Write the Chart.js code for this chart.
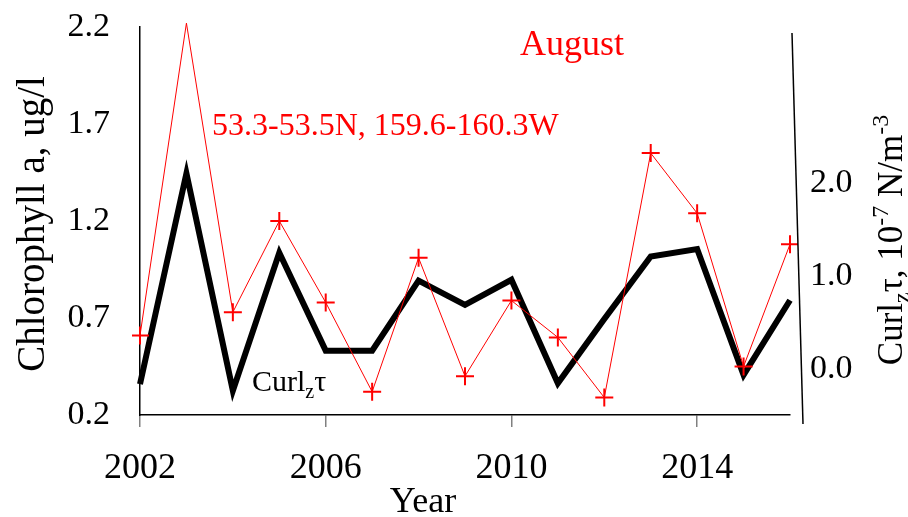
<!DOCTYPE html>
<html>
<head>
<meta charset="utf-8">
<script src="https://cdn.jsdelivr.net/npm/chart.js@4/dist/chart.umd.min.js"></script>
<style>
  body { margin: 0; background: #fff; }
</style>
</head>
<body>
<canvas id="lineChart" width="908" height="517"></canvas>
<script>
  const years = [2002, 2003, 2004, 2005, 2006, 2007, 2008, 2009, 2010, 2011, 2012, 2013, 2014, 2015, 2016];
  // chlorophyll a, ug/l (left axis)
  const chlorophyll = [0.61, 2.22, 0.73, 1.2, 0.78, 0.32, 1.01, 0.4, 0.79, 0.6, 0.29, 1.55, 1.24, 0.45, 1.08];
  // wind stress curl, 10^-7 N/m^3 (right axis)
  const curl = [-0.16, 2.1, -0.23, 1.25, 0.2, 0.2, 0.95, 0.69, 0.96, -0.15, 0.54, 1.21, 1.29, -0.06, 0.74];

  const yearTicks = [2002, 2006, 2010, 2014];
  const chlTicks = [0.2, 0.7, 1.2, 1.7, 2.2];
  const curlTicks = [0, 1, 2];

  const serif = "'Liberation Serif', 'Times New Roman', serif";

  function setTicks(list) {
    return (scale) => { scale.ticks = list.map((v) => ({ value: v })); };
  }

  // fixed axis size, no label overhang padding
  function fixSize(prop, size) {
    return (s) => {
      s[prop] = size;
      s.paddingTop = 0;
      s.paddingBottom = 0;
      s.paddingLeft = 0;
      s.paddingRight = 0;
    };
  }

  // text with sub/superscripts: parts = [text, size, baseline shift]
  function drawParts(ctx, parts, x, y, color, center) {
    ctx.fillStyle = color;
    ctx.textBaseline = "alphabetic";
    ctx.textAlign = "left";
    let total = 0;
    parts.forEach((p) => {
      ctx.font = p[1] + "px " + serif;
      total += ctx.measureText(p[0]).width;
    });
    let cx = center ? x - total / 2 : x;
    parts.forEach((p) => {
      ctx.font = p[1] + "px " + serif;
      ctx.fillText(p[0], cx, y + p[2]);
      cx += ctx.measureText(p[0]).width;
    });
  }

  const annotations = {
    id: "annotations",
    afterDraw(chart) {
      const ctx = chart.ctx;
      ctx.save();

      // right axis line (slightly tilted)
      ctx.strokeStyle = "#000";
      ctx.lineWidth = 1.5;
      ctx.beginPath();
      ctx.moveTo(792, 33);
      ctx.lineTo(803, 424);
      ctx.stroke();

      drawParts(ctx, [["August", 36, 0]], 520, 55, "#ff0000", false);
      drawParts(ctx, [["53.3-53.5N, 159.6-160.3W", 32, 0]], 212, 135, "#ff0000", false);
      drawParts(ctx, [["Curl", 30, 0], ["z", 20, 7], ["\u03c4", 30, 0]], 252, 391, "#000", false);
      drawParts(ctx, [["Year", 36, 0]], 423, 512, "#000", true);

      // left axis title
      ctx.save();
      ctx.translate(44, 224);
      ctx.rotate(-Math.PI / 2);
      drawParts(ctx, [["Chlorophyll a, ug/l", 39, 0]], 0, 0, "#000", true);
      ctx.restore();

      // right axis title
      ctx.save();
      ctx.translate(902, 240);
      ctx.rotate(-Math.PI / 2);
      drawParts(ctx, [
        ["Curl", 35, 0], ["z", 24, 7], ["\u03c4, 10", 35, 0], ["-7", 24, -14],
        [" N/m", 35, 0], ["-3", 24, -14]
      ], 0, 0, "#000", true);
      ctx.restore();

      ctx.restore();
    }
  };

  const ctx = document.getElementById("lineChart").getContext("2d");
  new Chart(ctx, {
    type: "line",
    data: {
      datasets: [
        {
          label: "Chlorophyll a",
          data: years.map((y, i) => ({ x: y, y: chlorophyll[i] })),
          yAxisID: "y",
          borderColor: "#ff0000",
          borderWidth: 1,
          pointStyle: "cross",
          pointRadius: (c) => (c.raw && c.raw.y > 2.2 ? 0 : 9),
          pointBorderColor: "#ff0000",
          pointBorderWidth: 2,
          tension: 0,
          clip: 8,
        },
        {
          label: "Curl",
          data: years.map((y, i) => ({ x: y, y: curl[i] })),
          yAxisID: "y1",
          borderColor: "#000",
          borderWidth: 6,
          borderJoinStyle: "miter",
          pointRadius: 0,
          tension: 0,
          clip: 8,
        },
      ],
    },
    options: {
      responsive: false,
      animation: false,
      layout: { padding: { top: 27, left: 0, right: 0, bottom: 0 } },
      plugins: { legend: { display: false }, tooltip: { enabled: false } },
      scales: {
        x: {
          type: "linear",
          position: "bottom",
          min: 2002,
          max: 2016,
          afterBuildTicks: setTicks(yearTicks),
          afterFit: fixSize("height", 102),
          grid: { drawOnChartArea: false, drawTicks: true, tickLength: 12, color: "#808080", lineWidth: 1.5 },
          border: { display: true, color: "#000", width: 1.5 },
          ticks: {
            padding: 20,
            color: "#000",
            font: { family: serif, size: 36 },
            callback: (v) => String(v),
          },
        },
        y: {
          type: "linear",
          position: "left",
          min: 0.2,
          max: 2.2,
          afterBuildTicks: setTicks(chlTicks),
          afterFit: fixSize("width", 140),
          grid: { display: false, drawTicks: false },
          border: { display: true, color: "#000", width: 1.5 },
          ticks: {
            padding: 30,
            color: "#000",
            font: { family: serif, size: 34 },
            callback: (v) => v.toFixed(1),
          },
        },
        y1: {
          type: "linear",
          position: "right",
          min: -0.49,
          max: 3.67,
          afterBuildTicks: setTicks(curlTicks),
          afterFit: fixSize("width", 118),
          grid: { display: false, drawTicks: false },
          border: { display: false },
          ticks: {
            padding: 20,
            color: "#000",
            font: { family: serif, size: 34 },
            callback: (v) => v.toFixed(1),
          },
        },
      },
    },
    plugins: [annotations],
  });
</script>
</body>
</html>
